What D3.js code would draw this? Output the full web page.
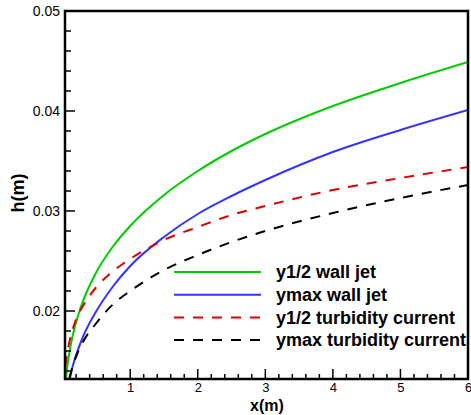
<!DOCTYPE html>
<html>
<head>
<meta charset="utf-8">
<script src="https://cdn.jsdelivr.net/npm/d3@7"></script>
<style>
  html, body { margin: 0; padding: 0; background: #fff; }
  svg { display: block; font-family: "Liberation Sans", Arial, sans-serif; }
</style>
</head>
<body>
<svg id="chart" width="471" height="415"></svg>
<script>
// ---- data ----
const seriesNames = ["y1/2 wall jet", "ymax wall jet", "y1/2 turbidity current", "ymax turbidity current"];
const seriesColors = ["#00cc00", "#3333ff", "#dd0000", "#000000"];
const seriesDashed = [false, false, true, true];

const greenX = [0.05, 0.08, 0.12, 0.18, 0.25, 0.35, 0.5, 0.75, 1, 1.5, 2, 2.5, 3, 4, 5, 6];
const greenH = [0.0133, 0.0150, 0.0166, 0.0184, 0.0200, 0.0218, 0.0239, 0.0265, 0.0285, 0.0316, 0.0340, 0.0360, 0.0377, 0.0405, 0.0428, 0.0449];

const blueX = [0.105, 0.15, 0.2, 0.3, 0.5, 0.75, 1, 1.5, 2, 2.5, 3, 4, 5, 6];
const blueH = [0.0132, 0.0145, 0.0156, 0.0174, 0.0200, 0.0225, 0.0245, 0.0274, 0.0297, 0.0315, 0.0331, 0.0359, 0.0381, 0.0401];

const redX = [0.04, 0.06, 0.1, 0.15, 0.22, 0.3, 0.5, 0.75, 1, 1.5, 2, 2.5, 3, 4, 5, 6];
const redH = [0.0145, 0.0155, 0.0169, 0.0182, 0.0195, 0.0205, 0.0224, 0.0240, 0.0252, 0.0271, 0.0284, 0.0296, 0.0305, 0.0321, 0.0333, 0.0344];

const blackX = [0.1, 0.15, 0.22, 0.3, 0.5, 0.75, 1, 1.5, 2, 2.5, 3, 4, 5, 6];
const blackH = [0.0133, 0.0145, 0.0158, 0.0169, 0.0188, 0.0207, 0.0220, 0.0241, 0.0256, 0.0269, 0.0280, 0.0298, 0.0313, 0.0326];

const xTickValues = [1, 2, 3, 4, 5, 6];
const yTickValues = [0.02, 0.03, 0.04, 0.05];
const xDomain = [0.035, 6];
const yDomain = [0.0132, 0.05];

// ---- layout ----
const svg = d3.select("#chart");
const L = 65, R = 468, T = 11, B = 379;

const x = d3.scaleLinear().domain(xDomain).range([L, R]);
const y = d3.scaleLinear().domain(yDomain).range([B, T]);

const seriesXs = [greenX, blueX, redX, blackX];
const seriesHs = [greenH, blueH, redH, blackH];
const series = seriesNames.map((name, i) => ({
  name, color: seriesColors[i], dashed: seriesDashed[i],
  points: seriesXs[i].map((v, j) => [v, seriesHs[i][j]])
}));

svg.append("defs").append("clipPath").attr("id", "clip")
  .append("rect").attr("x", L).attr("y", T).attr("width", R - L).attr("height", B - T);

const line = d3.line().x(d => x(d[0])).y(d => y(d[1])).curve(d3.curveMonotoneX);

const g = svg.append("g").attr("clip-path", "url(#clip)");
series.forEach(s => {
  g.append("path")
    .attr("d", line(s.points))
    .attr("fill", "none")
    .attr("stroke", s.color)
    .attr("stroke-width", 2)
    .attr("stroke-dasharray", s.dashed ? "10,9" : null);
});

// ---- legend ----
const legY0 = 272, legDy = 22.7;
series.forEach((s, i) => {
  const yy = legY0 + i * legDy;
  svg.append("line")
    .attr("x1", 174).attr("x2", 261).attr("y1", yy).attr("y2", yy)
    .attr("stroke", s.color).attr("stroke-width", 2)
    .attr("stroke-dasharray", s.dashed ? "10,9" : null);
  svg.append("text")
    .attr("x", 276).attr("y", yy).attr("dy", "0.35em")
    .attr("font-size", 18).attr("font-weight", "bold")
    .attr("fill", "#000")
    .text(s.name);
});

// ---- axes ----
const minorX = d3.range(0.2, 6.0001, 0.2).filter(v => v >= xDomain[0]);
const minorY = d3.range(0.014, 0.05001, 0.002);

const xAxis = svg.append("g").attr("transform", `translate(0,${B})`)
  .call(d3.axisBottom(x).tickValues(xTickValues).tickSize(0).tickPadding(4).tickFormat(d3.format("d")));
xAxis.select(".domain").remove();
xAxis.selectAll("text").attr("font-size", 13).attr("fill", "#000").attr("font-family", "Liberation Sans, Arial, sans-serif");

const yAxis = svg.append("g").attr("transform", `translate(${L},0)`)
  .call(d3.axisLeft(y).tickValues(yTickValues).tickSize(0).tickPadding(5).tickFormat(d3.format(".2f")));
yAxis.select(".domain").remove();
yAxis.selectAll("text").attr("font-size", 14).attr("fill", "#000").attr("font-family", "Liberation Sans, Arial, sans-serif");

// inward ticks
const tk = svg.append("g").attr("stroke", "#000").attr("stroke-width", 1.5);
minorX.forEach(v => {
  const isMajor = Math.abs(v - Math.round(v)) < 1e-6;
  tk.append("line").attr("x1", x(v)).attr("x2", x(v)).attr("y1", B).attr("y2", B - (isMajor ? 10 : 5));
});
minorY.forEach(v => {
  const isMajor = Math.abs(v * 100 - Math.round(v * 100)) < 1e-6;
  tk.append("line").attr("x1", L).attr("x2", L + (isMajor ? 10 : 6)).attr("y1", y(v)).attr("y2", y(v));
});

// frame
svg.append("rect").attr("x", L).attr("y", T).attr("width", R - L).attr("height", B - T)
  .attr("fill", "none").attr("stroke", "#000").attr("stroke-width", 2.5);

// axis titles
svg.append("text").attr("x", 267).attr("y", 411).attr("text-anchor", "middle")
  .attr("font-size", 16).attr("font-weight", "bold").text("x(m)");
svg.append("text").attr("transform", "translate(24,193) rotate(-90)").attr("text-anchor", "middle")
  .attr("font-size", 18).attr("font-weight", "bold").text("h(m)");
</script>
</body>
</html>
